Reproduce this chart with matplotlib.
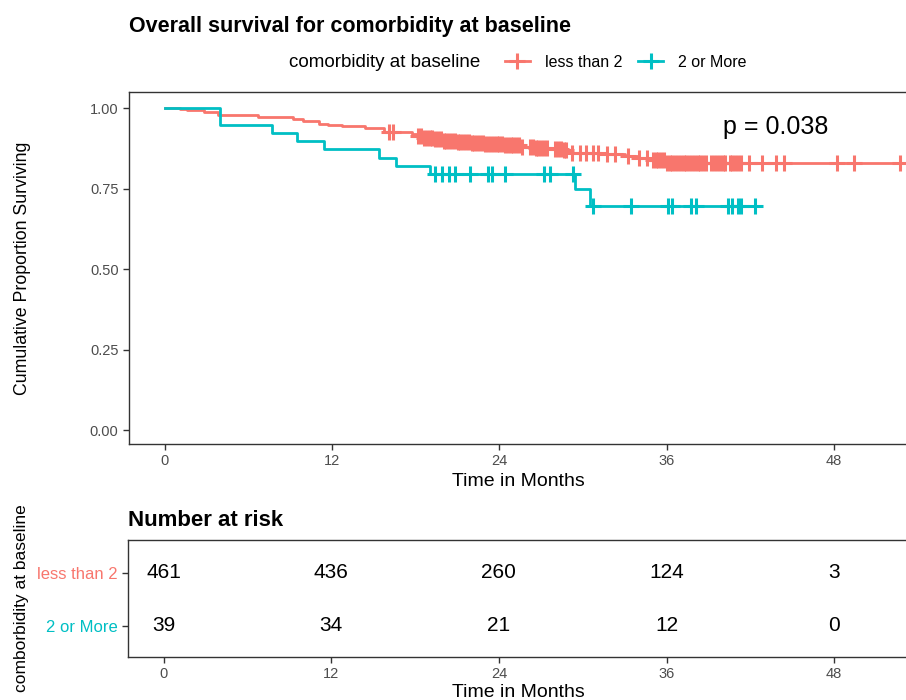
import numpy as np
import matplotlib.pyplot as plt
from matplotlib.lines import Line2D

plt.rcParams['font.family'] = ['Liberation Sans', 'DejaVu Sans']

RED  = '#F8766D'
BLUE = '#00BFC4'
GREY = '#4D4D4D'

groups = ['less than 2', '2 or More']

# less than 2: step times / survival after each step
red_t = [0, 1.1, 1.6, 2.8, 3.8, 4.6, 6.7, 9.2, 9.9, 11.1, 11.7, 12.7, 14.4, 15.7, 17.7,
         18.1, 18.6, 19.3, 20.0, 21.0, 22.0, 23.0, 24.3, 25.5, 26.5, 27.6, 28.5, 29.0,
         31.4, 33.0, 34.0, 34.8, 35.9, 52.7]
red_s = [1.0, 0.996, 0.993, 0.987, 0.980, 0.977, 0.972, 0.965, 0.959, 0.952, 0.948, 0.945,
         0.937, 0.926, 0.921, 0.914, 0.908, 0.903, 0.899, 0.895, 0.891, 0.888, 0.884, 0.880,
         0.877, 0.874, 0.870, 0.861, 0.857, 0.851, 0.844, 0.839, 0.828, 0.828]
red_cens = [16.1, 16.4,
            18.2, 18.4, 18.6, 18.8, 19.0, 19.2, 19.4, 19.6, 19.8, 20.0, 20.2, 20.4, 20.6,
            20.8, 21.0, 21.2, 21.4, 21.6, 21.8, 22.0, 22.2, 22.4, 22.6, 22.8, 23.0, 23.2,
            23.4, 23.6, 23.8, 24.0, 24.2, 24.4, 24.6, 24.8, 25.0, 25.2, 25.4, 25.6, 26.2,
            26.4, 26.6, 26.8, 27.0, 27.2, 27.4, 28.0, 28.2, 28.4, 28.6, 28.8,
            29.2, 29.8, 30.2, 30.7, 31.1, 31.7, 32.3, 33.2, 34.0, 34.6, 35.0,
            35.2, 35.4, 35.6, 35.8, 36.0, 36.2, 36.4, 36.6, 36.8, 37.0, 37.2, 37.4, 37.6,
            37.8, 38.0, 38.2, 38.4, 38.6, 38.8, 39.2, 39.4, 39.6, 39.8, 40.0, 40.2, 40.5,
            40.7, 40.9, 41.1, 41.3,
            41.9, 42.8, 43.8, 44.4, 48.2, 49.4, 52.7]

# 2 or More
blue_t = [0, 4.0, 7.7, 9.5, 11.4, 15.4, 16.6, 19.0, 29.4, 30.5, 42.3]
blue_s = [1.0, 0.949, 0.923, 0.897, 0.872, 0.846, 0.821, 0.795, 0.748, 0.696, 0.696]
blue_cens = [19.4, 19.9, 20.4, 20.8, 21.9, 23.2, 23.5, 24.4, 27.2, 27.6, 29.3,
             30.7, 33.4, 36.1, 36.4, 37.7, 38.1, 40.4, 40.7, 41.1, 41.3, 42.3]

risk_times = [0, 12, 24, 36, 48]
risk_red   = [461, 436, 260, 124, 3]
risk_blue  = [39, 34, 21, 12, 0]

p_text = 'p = 0.038'


def surv_at(t, s, x):
    idx = np.searchsorted(t, x, side='right') - 1
    return np.asarray(s)[idx]


fig = plt.figure(figsize=(9.06, 7.0), dpi=100)

ax = fig.add_axes([0.1424, 0.3657, 0.8600, 0.5029])
ax2 = fig.add_axes([0.1413, 0.0614, 0.8611, 0.1672])

for t, s, cens, col in [(red_t, red_s, red_cens, RED), (blue_t, blue_s, blue_cens, BLUE)]:
    ax.step(t, s, where='post', color=col, lw=2.0, zorder=3)
    ax.plot(cens, surv_at(t, s, cens), ls='none', marker='+', color=col,
            ms=11, mew=2.2, zorder=4)

ax.set_xlim(-2.55, 53.3)
ax.set_ylim(-0.043, 1.05)
ax.set_xticks(risk_times)
ax.set_yticks([0, 0.25, 0.5, 0.75, 1.0])
ax.set_yticklabels(['0.00', '0.25', '0.50', '0.75', '1.00'])
ax.set_xlabel('Time in Months', fontsize=14, color='black', labelpad=3)
ax.set_ylabel('Cumulative Proportion Surviving', fontsize=12.8, color='black')
ax.yaxis.set_label_coords(-0.126, 0.5)
ax.text(40.0, 0.94, p_text, fontsize=18, color='black', va='center')

ax2.set_xlim(-2.55, 53.3)
ax2.set_ylim(0.41, 2.62)
for y, vals in [(2, risk_red), (1, risk_blue)]:
    for x, v in zip(risk_times, vals):
        ax2.text(x, y, str(v), ha='center', va='center', fontsize=15, color='black')
ax2.set_xticks(risk_times)
ax2.set_yticks([2, 1])
ax2.set_yticklabels(groups)
ax2.set_xlabel('Time in Months', fontsize=14, color='black', labelpad=2)
ax2.set_ylabel('comborbidity at baseline', fontsize=12.5, color='black')
ax2.yaxis.set_label_coords(-0.127, 0.5)

for a in (ax, ax2):
    for sp in a.spines.values():
        sp.set_color('#333333')
        sp.set_linewidth(1.0)
    a.tick_params(colors='#333333', labelcolor=GREY, labelsize=10.5, length=4, width=1)
ax2.tick_params(axis='y', labelsize=12)
for lab, col in zip(ax2.get_yticklabels(), [RED, BLUE]):
    lab.set_color(col)

fig.text(0.1424, 0.962, 'Overall survival for comorbidity at baseline',
         fontsize=15.5, fontweight='bold', va='center', ha='left')
fig.text(0.1413, 0.257, 'Number at risk', fontsize=16, fontweight='bold', va='center', ha='left')

fig.text(0.319, 0.911, 'comorbidity at baseline', fontsize=13.5, va='center', ha='left')
handles = [Line2D([], [], color=RED, lw=2, marker='+', ms=11, mew=2.2),
           Line2D([], [], color=BLUE, lw=2, marker='+', ms=11, mew=2.2)]
fig.legend(handles, groups, ncol=2, frameon=False, loc='center left',
           bbox_to_anchor=(0.557, 0.911), fontsize=11.5, handlelength=1.6,
           handletextpad=0.9, columnspacing=1.0, borderaxespad=0, borderpad=0)

fig.savefig('out.png', dpi=100)
